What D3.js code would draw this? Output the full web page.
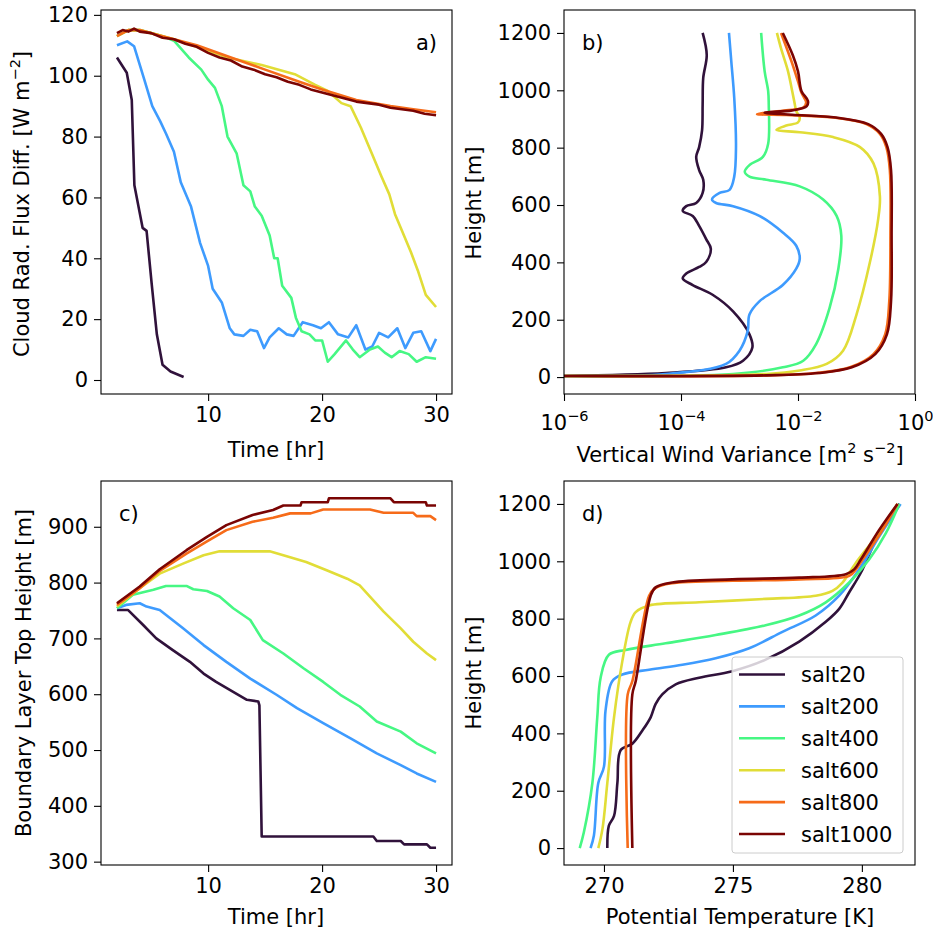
<!DOCTYPE html>
<html><head><meta charset="utf-8">
<script src="https://cdn.jsdelivr.net/npm/d3@7"></script>
<style>
body{margin:0;background:#fff;font-family:"DejaVu Sans",sans-serif;}
text{fill:#000;}
</style></head>
<body>
<svg id="chart" width="933" height="930"></svg>
<script>
var names = ['salt20','salt200','salt400','salt600','salt800','salt1000'];
var colors = ['#30123b','#3e9bfe','#46f783','#e1dd37','#f66b19','#7a0403'];

// a) cloud radiative flux difference [t hr, W m-2]
var fluxA = [
 [[2,106],[2.86,101],[3.3,92],[3.53,64],[4.25,50],[4.6,49],[5.05,31.5],[5.5,15],[6.0,5],[6.7,2.8],[7.85,1]],
 [[2,110],[2.9,111.3],[3.5,109.7],[4.4,98.7],[5.1,90],[5.8,85],[6.3,81],[7,75],[7.6,65],[8.5,57],[9.3,45],[10,37.5],[10.4,30],[11.2,25.5],[11.9,17],[12.3,15],[13.1,14.5],[13.7,16.5],[14.3,16],[14.9,10.5],[15.4,14],[16.2,17],[16.9,15],[17.5,14.5],[18.3,19],[19.2,18],[19.9,17],[20.6,19],[21.4,15],[22.3,14],[23,18],[23.8,10],[24.4,11],[25,15.5],[25.8,14],[26.6,17],[27.3,10.5],[28,15.5],[28.7,16],[29.5,9.5],[30,13.5]],
 [[2,113],[3,115],[4,115],[5,114],[6,113],[7,111.5],[8.3,106],[9.4,102],[10,98.7],[10.6,96],[11.2,90],[11.7,80],[12.5,74.5],[13.1,64],[13.7,62],[14.1,57],[14.7,54],[15.4,47.5],[15.8,40],[16.1,40],[16.5,31],[17.3,27],[17.7,20.5],[18.2,16],[18.9,15],[19.4,13],[20,13],[20.5,6],[21.1,8.5],[22.1,13],[22.7,10],[23.3,7.5],[24.2,10],[24.9,11],[25.5,9],[26.1,7.5],[26.8,9.5],[27.6,8.5],[28.3,6],[29.1,7.5],[30,7]],
 [[2,113],[3,115],[4,115],[5,114],[7,112],[9.4,109],[11.7,106],[14.7,103.5],[17.6,100.5],[19.4,97],[20.5,95],[21.7,91],[22.5,90],[23.4,83],[24.3,75],[25.2,67],[25.9,61],[26.4,54.5],[26.9,50],[27.8,42],[28.4,36],[29.1,28],[30,24]],
 [[2,113],[3,115],[4,115],[6,113],[9,110],[12,106],[15,102],[18,98],[20,95.5],[23,92],[26,90],[28,89],[30,88]],
 [[2,114],[2.5,115],[3,114.5],[3.5,115.5],[4,114.5],[5,114],[6,112.5],[7,112],[8,110.5],[9,109.5],[10,107.5],[11,106],[12,105],[13,103],[14,102],[15,100.5],[16,99.5],[17,98],[18,97],[19,95.5],[20,94.5],[21,93.5],[22,92.5],[23,91.5],[24,91],[25,90.5],[26,89.5],[27,89],[28,88.5],[29,87.5],[30,87]]
];

// b) vertical wind variance [log10 m2 s-2, height m]
var varB = [
 [[-6,4],[-4.26,14],[-3.23,34],[-2.94,57],[-2.78,103],[-2.83,149],[-3.11,229],[-3.46,287],[-3.8,321],[-3.97,344],[-3.91,361],[-3.69,384],[-3.57,401],[-3.49,447],[-3.57,481],[-3.69,527],[-3.8,562],[-3.97,579],[-3.91,596],[-3.74,607],[-3.63,642],[-3.62,688],[-3.69,722],[-3.74,768],[-3.69,802],[-3.64,860],[-3.63,951],[-3.62,1043],[-3.56,1123],[-3.63,1200]],
 [[-6,4],[-4.26,11],[-3.23,46],[-3.0,92],[-2.86,160],[-2.83,218],[-2.66,264],[-2.26,321],[-2.03,378],[-1.97,413],[-2.03,458],[-2.26,504],[-2.66,562],[-3.11,596],[-3.4,607],[-3.47,619],[-3.34,642],[-3.17,653],[-3.09,699],[-3.06,802],[-3.09,974],[-3.14,1100],[-3.18,1200]],
 [[-6,4],[-3.11,11],[-2.26,34],[-1.91,57],[-1.69,115],[-1.46,241],[-1.31,378],[-1.26,493],[-1.34,562],[-1.57,619],[-1.97,665],[-2.54,688],[-2.83,699],[-2.91,716],[-2.83,739],[-2.6,768],[-2.51,814],[-2.5,951],[-2.51,997],[-2.57,1066],[-2.63,1200]],
 [[-6,4],[-2.54,11],[-1.97,23],[-1.51,46],[-1.23,92],[-1.0,218],[-0.77,401],[-0.63,550],[-0.6,630],[-0.71,745],[-0.94,802],[-1.4,837],[-1.97,854],[-2.37,862],[-2.2,877],[-2.0,888],[-1.97,905],[-2.03,928],[-2.06,957],[-2.11,1008],[-2.17,1066],[-2.29,1146],[-2.36,1200]],
 [[-6,4],[-2.54,6],[-1.69,14],[-1.11,34],[-0.71,80],[-0.51,149],[-0.44,264],[-0.42,493],[-0.43,722],[-0.49,802],[-0.6,848],[-0.83,882],[-1.4,905],[-2.2,914],[-2.7,917],[-2.2,930],[-1.91,940],[-1.86,957],[-1.94,991],[-2.0,1031],[-2.11,1100],[-2.29,1200]],
 [[-6,4],[-2.54,6],[-1.65,14],[-1.08,34],[-0.68,80],[-0.48,149],[-0.41,264],[-0.4,493],[-0.41,722],[-0.47,802],[-0.58,848],[-0.8,882],[-1.35,905],[-2.1,915],[-2.57,922],[-2.1,930],[-1.85,945],[-1.83,963],[-1.94,997],[-2.0,1066],[-2.09,1123],[-2.26,1200]]
];

// c) boundary layer top height [t hr, m]
var bltC = [
 [[2,751],[2.96,751],[4.3,724],[5.45,700],[6.9,679],[8.4,658],[9.6,637],[10.7,622],[12.2,604],[13.4,590],[14.4,587],[14.5,580],[14.7,345],[24.5,345],[24.8,337],[26.9,337],[27.2,331],[29.2,331],[29.5,325],[30,325]],
 [[2,754],[2.8,760],[4.0,763],[4.6,757],[5.75,751],[7.8,718],[9.6,688],[11.6,658],[13.7,628],[16,599],[17.8,575],[20.1,548],[22.5,521],[24.8,494],[26.9,473],[28.3,458],[30,443]],
 [[2,754],[3.4,778],[5.2,787],[6.3,794],[8.1,794],[8.7,788],[9.9,785],[11,775],[12.2,754],[13.7,733],[14.8,697],[16.6,673],[18.4,646],[20.1,622],[21.6,599],[23.3,578],[24.8,551],[26.9,533],[28.3,512],[30,494]],
 [[2,757],[4,790],[5.75,816],[7.8,834],[9.6,849],[11,856],[15.4,856],[16.6,849],[18.6,837],[20.4,822],[22.2,807],[23.3,795],[24.2,775],[25.4,748],[26.9,718],[28,694],[29.2,673],[30,661]],
 [[2,760],[4,790],[5.75,821],[8.1,852],[9.9,874],[11.6,894],[13.9,909],[15.7,916],[17.2,924],[19,924],[20.1,931],[24.2,931],[25.4,925],[28,925],[28.3,919],[29.5,919],[30,912]],
 [[2,763],[4,793],[5.75,824],[8.1,858],[9.9,882],[11.6,903],[13.9,921],[15.7,930],[16.6,938],[18.1,938],[18.2,944],[20.5,944],[20.6,951],[26,951],[26.3,944],[29.1,944],[29.2,938],[30,938]]
];

// d) potential temperature [K, height m]
var thetaD = [
 [[270.13,0],[270.19,78],[270.39,112],[270.52,227],[270.65,342],[271.1,364],[271.49,410],[271.81,456],[272.0,502],[272.26,536],[272.78,571],[273.69,594],[274.98,617],[276.27,657],[277.57,720],[278.6,789],[279.12,834],[279.51,892],[279.96,960],[280.54,1075],[281.06,1155],[281.45,1200]],
 [[269.48,0],[269.61,44],[269.78,227],[270.0,284],[270.06,479],[270.32,582],[270.71,605],[271.75,622],[273.04,639],[274.33,662],[275.63,697],[276.92,754],[278.21,811],[279.12,880],[279.9,972],[280.67,1086],[281.5,1200]],
 [[269.06,0],[269.22,55],[269.55,227],[269.74,456],[269.87,594],[270.19,674],[270.84,691],[272.39,714],[274.33,743],[276.27,777],[277.57,811],[278.6,857],[279.51,926],[280.28,1006],[280.93,1098],[281.45,1200]],
 [[269.78,0],[269.94,66],[270.13,227],[270.39,456],[270.71,651],[271.03,788],[271.23,823],[271.75,846],[273.69,857],[276.27,869],[278.21,880],[278.86,897],[279.25,926],[279.77,995],[280.54,1086],[281.38,1200]],
 [[270.92,0],[270.92,536],[271.1,582],[271.75,880],[271.94,903],[272.39,920],[274.98,932],[277.57,937],[279.51,949],[279.77,972],[280.03,1006],[280.8,1109],[281.38,1200]],
 [[271.1,0],[271.1,536],[271.23,582],[271.81,880],[272.0,909],[272.65,926],[274.98,937],[277.57,943],[279.38,955],[279.7,972],[279.96,1006],[280.67,1109],[281.38,1200]]
];

var timeTicks = [10,20,30];
var fluxTicks = [0,20,40,60,80,100,120];
var heightTicks = [0,200,400,600,800,1000,1200];
var bltTicks = [300,400,500,600,700,800,900];
var varTicks = [-6,-4,-2,0];
var thetaTicks = [270,275,280];

var FS = 21;   // font size used throughout
var SS = 14.5; // superscripts
var svg = d3.select('#chart');

function panel(box, xs, ys, opts) {
	var g = svg.append('g');
	var xa = g.append('g').attr('transform','translate(0,' + box.b + ')')
		.call(d3.axisBottom(xs).tickValues(opts.xt).tickSize(7).tickPadding(6).tickFormat(opts.xf || d3.format('d')));
	var ya = g.append('g').attr('transform','translate(' + box.l + ',0)')
		.call(d3.axisLeft(ys).tickValues(opts.yt).tickSize(7).tickPadding(6).tickFormat(d3.format('d')));
	[xa, ya].forEach(function(a){
		a.attr('font-size', FS).attr('font-family','DejaVu Sans');
		a.select('.domain').remove();
		a.selectAll('line').attr('stroke','#000').attr('stroke-width',1.1);
		a.selectAll('text').attr('fill','#000');
	});
	var line = d3.line().curve(opts.curve || d3.curveLinear)
		.x(function(d){ return xs(d[0]); }).y(function(d){ return ys(d[1]); });
	opts.data.forEach(function(s, i) {
		g.append('path').datum(s).attr('d', line).attr('fill','none')
			.attr('stroke', colors[i]).attr('stroke-width', 2.6).attr('stroke-linejoin','round');
	});
	g.append('rect').attr('x',box.l).attr('y',box.t).attr('width',box.r-box.l).attr('height',box.b-box.t)
		.attr('fill','none').attr('stroke','#000').attr('stroke-width',1.1);
	g.append('text').attr('x', opts.lx).attr('y', box.t + 40).attr('font-size',FS).text(opts.letter);
	return {g: g, xa: xa, ya: ya};
}

// a)
var boxA = {l:101, r:452, t:10, b:394};
panel(boxA,
	d3.scaleLinear().domain([0.6,31.4]).range([boxA.l,boxA.r]),
	d3.scaleLinear().domain([-4.6,121.6]).range([boxA.b,boxA.t]),
	{xt: timeTicks, yt: fluxTicks, data: fluxA, letter: 'a)', lx: 416});
// b)
var boxB = {l:564, r:915, t:10, b:394};
var pb = panel(boxB,
	d3.scaleLinear().domain([-6,0]).range([boxB.l,boxB.r]),
	d3.scaleLinear().domain([-59,1280]).range([boxB.b,boxB.t]),
	{xt: varTicks, yt: heightTicks, data: varB, letter: 'b)', lx: 582, curve: d3.curveCatmullRom, xf: function(){ return ''; }});
pb.xa.selectAll('.tick').append('text').attr('y', 36).attr('text-anchor','middle').attr('fill','#000')
	.each(function(d){
		var t = d3.select(this);
		t.append('tspan').text('10');
		t.append('tspan').attr('dy',-9).attr('font-size',SS).text(d === 0 ? '0' : '\u2212' + (-d));
	});
// c)
var boxC = {l:101, r:452, t:481, b:865};
panel(boxC,
	d3.scaleLinear().domain([0.6,31.4]).range([boxC.l,boxC.r]),
	d3.scaleLinear().domain([294,982]).range([boxC.b,boxC.t]),
	{xt: timeTicks, yt: bltTicks, data: bltC, letter: 'c)', lx: 119});
// d)
var boxD = {l:564, r:915, t:481, b:865};
panel(boxD,
	d3.scaleLinear().domain([268.45,282.06]).range([boxD.l,boxD.r]),
	d3.scaleLinear().domain([-59,1280]).range([boxD.b,boxD.t]),
	{xt: thetaTicks, yt: heightTicks, data: thetaD, letter: 'd)', lx: 582, curve: d3.curveCatmullRom});

// axis labels
function label(x, y, rot, parts) {
	var t = svg.append('text').attr('font-size',FS).attr('text-anchor','middle')
		.attr('transform','translate(' + x + ',' + y + ')' + (rot ? ' rotate(-90)' : ''));
	parts.forEach(function(p){
		var s = t.append('tspan').text(p[0]);
		if (p[1]) s.attr('dy', p[1]).attr('font-size', p[2] || FS);
	});
}
label(276, 457, false, [['Time [hr]']]);
label(276, 924, false, [['Time [hr]']]);
label(740, 462, false, [['Vertical Wind Variance [m'],['2',-9,SS],[' s',9],['\u22122',-9,SS],[']',9]]);
label(740, 924, false, [['Potential Temperature [K]']]);
label(29, 204, true, [['Cloud Rad. Flux Diff. [W m'],['\u22122',-9,SS],[']',9]]);
label(481, 203, true, [['Height [m]']]);
label(31, 673, true, [['Boundary Layer Top Height [m]']]);
label(481, 673, true, [['Height [m]']]);

// legend
var leg = svg.append('g');
leg.append('rect').attr('x',732).attr('y',657).attr('width',171).attr('height',196).attr('rx',3)
	.attr('fill','#fff').attr('fill-opacity',0.8).attr('stroke','#ccc');
names.forEach(function(n, i){
	var y = 674.5 + i * 31.9;
	leg.append('line').attr('x1',739).attr('x2',785).attr('y1',y).attr('y2',y)
		.attr('stroke',colors[i]).attr('stroke-width',2.6);
	leg.append('text').attr('x',801).attr('y',y + 7.5).attr('font-size',FS).text(n);
});
</script>
</body></html>
